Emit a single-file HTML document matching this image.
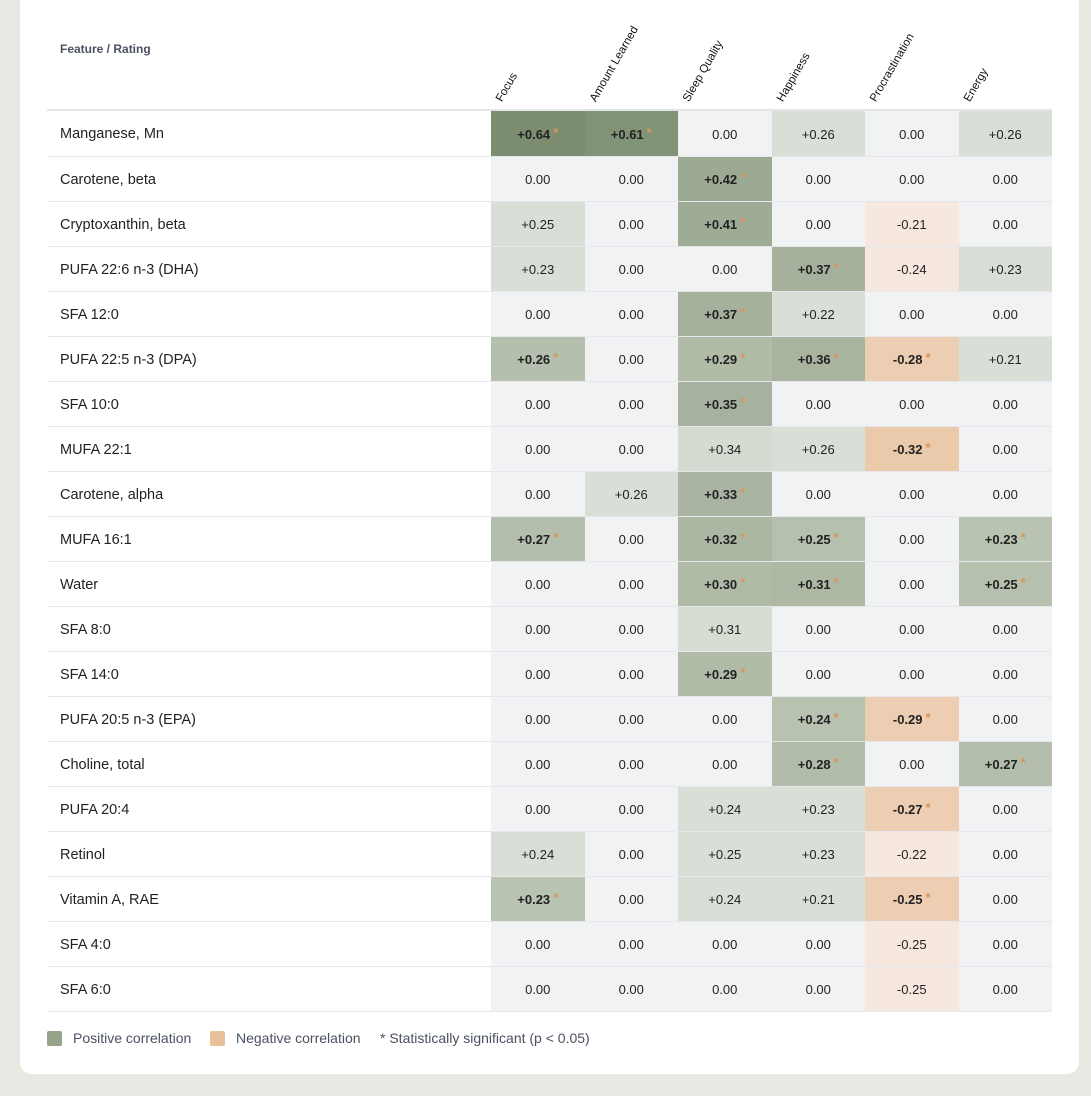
<!DOCTYPE html>
<html><head><meta charset="utf-8"><style>
*{box-sizing:border-box;margin:0;padding:0}
body{width:1091px;height:1096px;background:#e9e8e3;font-family:"Liberation Sans",sans-serif;position:relative;overflow:hidden}
.card{position:absolute;left:20px;top:-20px;width:1059px;height:1094px;background:#fff;border-radius:12px}
.fr{position:absolute;left:60px;top:42px;font-size:12px;font-weight:bold;color:#4a5160}
.ch{position:absolute;top:98px;font-size:11.5px;color:#111;transform-origin:0 0;transform:rotate(-60deg);white-space:nowrap}
.hl{position:absolute;left:47px;top:109px;width:1005px;height:2px;background:#e4e5e8}
table{position:absolute;left:47px;top:111px;border-collapse:collapse;table-layout:fixed;width:1005px}
td{height:45px;border-bottom:1px solid #e5e7ea;font-size:13px;line-height:16px;color:#222;text-align:center;padding:3px 0 0 0;vertical-align:middle}
td.l{width:444px;text-align:left;padding-left:13px;padding-top:2px;font-size:14.5px;background:#fff}
td{background:#f1f2f4}
td.p{background:#d9ded6}
td.n{background:#f6e8de}
td.s{font-weight:bold}
td.s:after{content:"*";color:#d9955a;font-size:13px;position:relative;top:-2px;margin-left:3px;font-weight:bold}
td.sn{background:#edceb2}
.lg{position:absolute;top:1030px;font-size:14px;color:#4a5160}
.sw{position:absolute;top:1031px;width:15px;height:15px;border-radius:2px}
</style></head><body>
<div class="card"></div>
<div class="fr">Feature / Rating</div>
<div class="ch" style="left:494px">Focus</div>
<div class="ch" style="left:588px">Amount Learned</div>
<div class="ch" style="left:681px">Sleep Quality</div>
<div class="ch" style="left:775px">Happiness</div>
<div class="ch" style="left:868px">Procrastination</div>
<div class="ch" style="left:962px">Energy</div>
<div class="hl"></div>
<table>
<tr><td class="l">Manganese, Mn</td><td class="s" style="background:#7d8e70">+0.64</td><td class="s" style="background:#819376">+0.61</td><td>0.00</td><td class="p">+0.26</td><td>0.00</td><td class="p">+0.26</td></tr>
<tr><td class="l">Carotene, beta</td><td>0.00</td><td>0.00</td><td class="s" style="background:#9caa93">+0.42</td><td>0.00</td><td>0.00</td><td>0.00</td></tr>
<tr><td class="l">Cryptoxanthin, beta</td><td class="p">+0.25</td><td>0.00</td><td class="s" style="background:#9fac95">+0.41</td><td>0.00</td><td class="n">-0.21</td><td>0.00</td></tr>
<tr><td class="l">PUFA 22:6 n-3 (DHA)</td><td class="p">+0.23</td><td>0.00</td><td>0.00</td><td class="s" style="background:#a5b19c">+0.37</td><td class="n">-0.24</td><td class="p">+0.23</td></tr>
<tr><td class="l">SFA 12:0</td><td>0.00</td><td>0.00</td><td class="s" style="background:#a5b19c">+0.37</td><td class="p">+0.22</td><td>0.00</td><td>0.00</td></tr>
<tr><td class="l">PUFA 22:5 n-3 (DPA)</td><td class="s" style="background:#b5bfad">+0.26</td><td>0.00</td><td class="s" style="background:#b0bba8">+0.29</td><td class="s" style="background:#a8b3a0">+0.36</td><td class="s sn">-0.28</td><td class="p">+0.21</td></tr>
<tr><td class="l">SFA 10:0</td><td>0.00</td><td>0.00</td><td class="s" style="background:#a6b29f">+0.35</td><td>0.00</td><td>0.00</td><td>0.00</td></tr>
<tr><td class="l">MUFA 22:1</td><td>0.00</td><td>0.00</td><td class="p" style="background:#d6dbd2">+0.34</td><td class="p">+0.26</td><td class="s sn" style="background:#ebc9ab">-0.32</td><td>0.00</td></tr>
<tr><td class="l">Carotene, alpha</td><td>0.00</td><td class="p">+0.26</td><td class="s" style="background:#a9b5a2">+0.33</td><td>0.00</td><td>0.00</td><td>0.00</td></tr>
<tr><td class="l">MUFA 16:1</td><td class="s" style="background:#b3beac">+0.27</td><td>0.00</td><td class="s" style="background:#acb7a3">+0.32</td><td class="s" style="background:#b6c0af">+0.25</td><td>0.00</td><td class="s" style="background:#b9c3b2">+0.23</td></tr>
<tr><td class="l">Water</td><td>0.00</td><td>0.00</td><td class="s" style="background:#afbaa7">+0.30</td><td class="s" style="background:#adb8a5">+0.31</td><td>0.00</td><td class="s" style="background:#b6c0af">+0.25</td></tr>
<tr><td class="l">SFA 8:0</td><td>0.00</td><td>0.00</td><td class="p" style="background:#d8ddd4">+0.31</td><td>0.00</td><td>0.00</td><td>0.00</td></tr>
<tr><td class="l">SFA 14:0</td><td>0.00</td><td>0.00</td><td class="s" style="background:#b0bba8">+0.29</td><td>0.00</td><td>0.00</td><td>0.00</td></tr>
<tr><td class="l">PUFA 20:5 n-3 (EPA)</td><td>0.00</td><td>0.00</td><td>0.00</td><td class="s" style="background:#b8c2b0">+0.24</td><td class="s sn">-0.29</td><td>0.00</td></tr>
<tr><td class="l">Choline, total</td><td>0.00</td><td>0.00</td><td>0.00</td><td class="s" style="background:#b2bcaa">+0.28</td><td>0.00</td><td class="s" style="background:#b3beac">+0.27</td></tr>
<tr><td class="l">PUFA 20:4</td><td>0.00</td><td>0.00</td><td class="p">+0.24</td><td class="p">+0.23</td><td class="s sn">-0.27</td><td>0.00</td></tr>
<tr><td class="l">Retinol</td><td class="p">+0.24</td><td>0.00</td><td class="p">+0.25</td><td class="p">+0.23</td><td class="n">-0.22</td><td>0.00</td></tr>
<tr><td class="l">Vitamin A, RAE</td><td class="s" style="background:#b9c3b2">+0.23</td><td>0.00</td><td class="p">+0.24</td><td class="p">+0.21</td><td class="s sn">-0.25</td><td>0.00</td></tr>
<tr><td class="l">SFA 4:0</td><td>0.00</td><td>0.00</td><td>0.00</td><td>0.00</td><td class="n">-0.25</td><td>0.00</td></tr>
<tr><td class="l">SFA 6:0</td><td>0.00</td><td>0.00</td><td>0.00</td><td>0.00</td><td class="n">-0.25</td><td>0.00</td></tr>
</table>
<div class="sw" style="left:47px;background:#94a38a"></div>
<div class="lg" style="left:73px">Positive correlation</div>
<div class="sw" style="left:210px;background:#e8c09a"></div>
<div class="lg" style="left:236px">Negative correlation</div>
<div class="lg" style="left:380px">* Statistically significant (p &lt; 0.05)</div>
</body></html>
